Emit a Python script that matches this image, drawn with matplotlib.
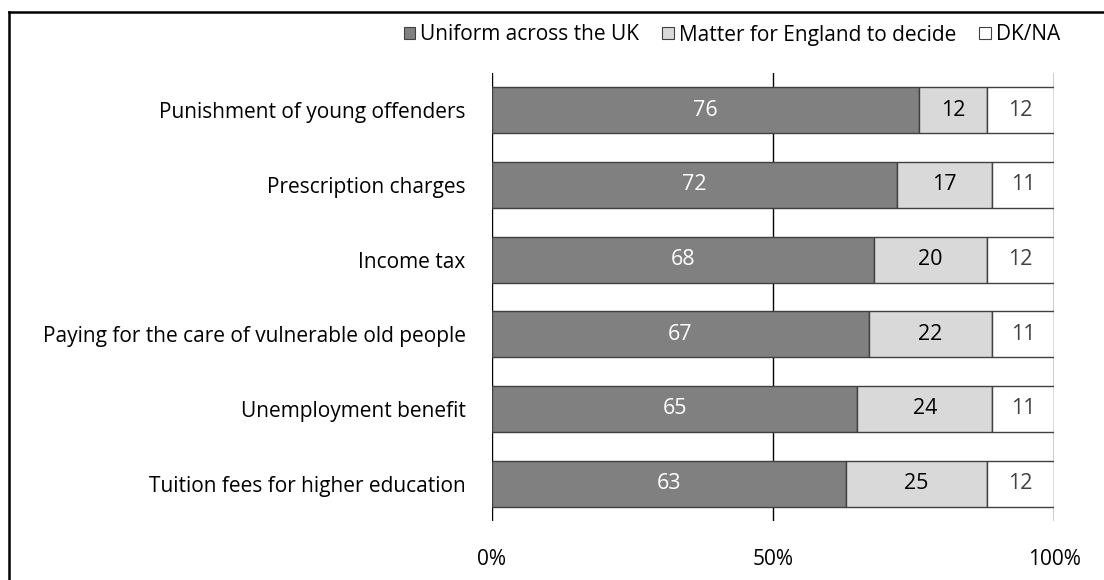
import matplotlib
matplotlib.use("Agg")
import matplotlib.pyplot as plt
from matplotlib.patches import Patch
from matplotlib.lines import Line2D
import numpy as np

plt.rcParams['font.family'] = ['Open Sans', 'DejaVu Sans']

categories = [
    "Punishment of young offenders",
    "Prescription charges",
    "Income tax",
    "Paying for the care of vulnerable old people",
    "Unemployment benefit",
    "Tuition fees for higher education",
]
uniform = [76, 72, 68, 67, 65, 63]
england = [12, 17, 20, 22, 24, 25]
dkna = [12, 11, 12, 11, 11, 12]

series_names = ["Uniform across the UK", "Matter for England to decide", "DK/NA"]
fill_colors = ["#808080", "#D9D9D9", "#FFFFFF"]
text_colors = ["#FFFFFF", "#000000", "#404040"]
edge = "#404040"
xticks = [0, 50, 100]
xtick_labels = ["0%", "50%", "100%"]

W, H = 1104, 580
fig = plt.figure(figsize=(W / 100, H / 100), dpi=100)
ax = fig.add_axes([492 / W, (H - 521) / H, 562 / W, 448 / H])

y = np.arange(len(categories))
left = np.zeros(len(categories))
for vals, fc, tc, name in zip([uniform, england, dkna], fill_colors, text_colors, series_names):
    vals = np.array(vals, dtype=float)
    bars = ax.barh(y, vals, left=left, height=0.62, color=fc, edgecolor=edge,
                   linewidth=1.0, label=name, zorder=3)
    for b, v in zip(bars, vals):
        ax.text(b.get_x() + b.get_width() / 2, b.get_y() + b.get_height() / 2,
                f"{int(v)}", ha="center", va="center", color=tc, fontsize=15.5, zorder=4)
    left += vals

ax.set_xlim(0, 100)
ax.set_ylim(len(categories) - 0.5, -0.5)
ax.set_yticks(y)
ax.set_yticklabels(categories, fontsize=15)
ax.set_xticks(xticks)
ax.set_xticklabels(xtick_labels, fontsize=15)
ax.tick_params(axis="y", length=0, pad=19)
ax.tick_params(axis="x", length=0, pad=20)
for s in ax.spines.values():
    s.set_visible(False)
ax.set_axisbelow(True)
ax.grid(axis="x", color="#000000", linewidth=1.0, zorder=0)
ax.grid(axis="y", visible=False)

handles = [Patch(facecolor=c, edgecolor=edge, linewidth=0.8) for c in fill_colors]
fig.legend(handles, series_names, loc="center right", bbox_to_anchor=(1060 / W, 1 - 35 / H),
           ncol=3, frameon=False, fontsize=15, handlelength=0.55, handleheight=0.55,
           handletextpad=0.25, columnspacing=1.1, borderaxespad=0, borderpad=0)

# outer frame lines along the top and left edges
fig.add_artist(Line2D([9 / W, 1], [1 - 12 / H, 1 - 12 / H], color="black", linewidth=1.8,
                      transform=fig.transFigure))
fig.add_artist(Line2D([9 / W, 9 / W], [0, 1 - 12 / H], color="black", linewidth=1.8,
                      transform=fig.transFigure))

fig.savefig("out.png", dpi=100, facecolor="white")
